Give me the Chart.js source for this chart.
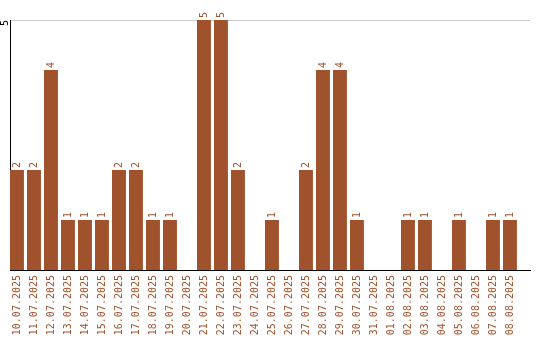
<!DOCTYPE html>
<html>
<head>
<meta charset="utf-8">
<script src="https://cdn.jsdelivr.net/npm/chart.js@4/dist/chart.umd.min.js"></script>
<style>
  body { margin: 0; background: #fff; }
  #wrap { width: 540px; height: 340px; }
</style>
</head>
<body>
<div id="wrap"><canvas id="chart"></canvas></div>
<script>
const dates = [
  "10.07.2025", "11.07.2025", "12.07.2025", "13.07.2025", "14.07.2025",
  "15.07.2025", "16.07.2025", "17.07.2025", "18.07.2025", "19.07.2025",
  "20.07.2025", "21.07.2025", "22.07.2025", "23.07.2025", "24.07.2025",
  "25.07.2025", "26.07.2025", "27.07.2025", "28.07.2025", "29.07.2025",
  "30.07.2025", "31.07.2025", "01.08.2025", "02.08.2025", "03.08.2025",
  "04.08.2025", "05.08.2025", "06.08.2025", "07.08.2025", "08.08.2025"
];
const counts = [2, 2, 4, 1, 1, 1, 2, 2, 1, 1, 0, 5, 5, 2, 0, 1, 0, 2, 4, 4, 1, 0, 0, 1, 1, 0, 1, 0, 1, 1];
const yTicks = [5];

const brown = "#a0522d";
const mono = "'DejaVu Sans Mono', monospace";

// value labels above bars + the rotated y tick, drawn by hand
const barLabels = {
  id: "barLabels",
  afterDatasetsDraw(chart) {
    const ctx = chart.ctx;
    const meta = chart.getDatasetMeta(0);
    ctx.save();
    ctx.font = "10px " + mono;
    ctx.fillStyle = brown;
    ctx.textAlign = "left";
    ctx.textBaseline = "middle";
    meta.data.forEach((bar, i) => {
      const v = counts[i];
      if (!v) return;
      ctx.save();
      ctx.translate(bar.x, bar.y - 2);
      ctx.rotate(-Math.PI / 2);
      ctx.fillText(String(v), 0, 0);
      ctx.restore();
    });
    const y = chart.scales.y;
    ctx.fillStyle = "#000";
    ctx.textAlign = "center";
    yTicks.forEach(t => {
      ctx.save();
      ctx.translate(5, y.getPixelForValue(t) + 3);
      ctx.rotate(-Math.PI / 2);
      ctx.fillText(String(t), 0, 0);
      ctx.restore();
    });
    ctx.restore();
  }
};

new Chart(document.getElementById("chart"), {
  type: "bar",
  data: {
    datasets: [{
      data: counts.map((v, i) => ({ x: i, y: v })),
      backgroundColor: brown,
      barPercentage: 0.82,
      categoryPercentage: 1
    }]
  },
  options: {
    responsive: true,
    maintainAspectRatio: false,
    animation: false,
    layout: { padding: { top: 20, right: 10, left: 0, bottom: 5 } },
    plugins: { legend: { display: false }, tooltip: { enabled: false } },
    scales: {
      x: {
        type: "linear",
        offset: false,
        min: -0.41,
        max: 30.18,
        afterBuildTicks: axis => { axis.ticks = dates.map((d, i) => ({ value: i })); },
        afterFit: axis => { axis.height = 65; },
        grid: { display: false, drawTicks: false },
        border: { color: "#000", width: 1 },
        ticks: {
          color: brown,
          font: { family: mono, size: 10 },
          minRotation: 90,
          maxRotation: 90,
          autoSkip: false,
          padding: 5,
          callback: v => dates[v]
        }
      },
      y: {
        min: 0,
        max: 5,
        afterBuildTicks: axis => { axis.ticks = yTicks.map(v => ({ value: v })); },
        afterFit: axis => { axis.width = 10; },
        grid: { color: "#cccccc", drawTicks: false },
        border: { color: "#000", width: 1 },
        ticks: { display: false }
      }
    }
  },
  plugins: [barLabels]
});
</script>
</body>
</html>
